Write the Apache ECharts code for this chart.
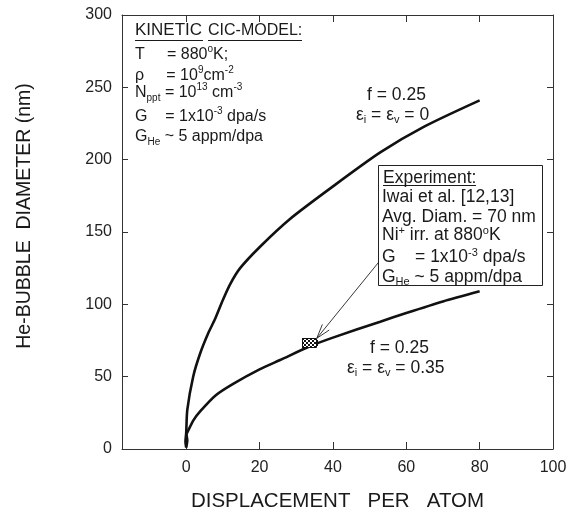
<!DOCTYPE html>
<html>
<head>
<meta charset="utf-8">
<script src="https://cdn.jsdelivr.net/npm/echarts@6/dist/echarts.min.js"></script>
<style>
html,body{margin:0;padding:0;background:#fff;}
#chart{width:574px;height:509px;}
</style>
</head>
<body>
<div id="chart"></div>
<script>
// ---- data ----
var xTicks = [0, 20, 40, 60, 80, 100];
var yTicks = [0, 50, 100, 150, 200, 250, 300];
var curveEps0 = [[0,1],[-0.2,5],[0,11],[0.3,27],[1.9,50],[3.8,66],[6,80],[7.9,90],[10,103],[12,114],[14.7,125],[20.2,140],[28.3,159],[39.2,180],[52.9,205],[65,223],[80,241]];
var curveEps035 = [[0,1],[0.3,6],[0.1,10],[0.6,13],[2,20],[3.8,26],[8,37],[12.8,45],[20,55],[25.6,61.5],[33.7,71],[40,77],[52.9,88],[60,94],[70,102],[80,109]];
var experimentPoint = [[33.7, 73.5]];
var arrowSeg = [[52.6, 129.5, 35.6, 76.5]];

var chart = echarts.init(document.getElementById('chart'));
var FONT = 'Liberation Sans, Arial, sans-serif';
var TXT = '#1a1a1a';
var axisCommon = {
  axisLine: {show: true, onZero: false, lineStyle: {color: '#333', width: 1}},
  splitLine: {show: false}
};
function mkRich(fs) {
  var ss = Math.round(fs * 0.62);
  return {
    n: {fontSize: fs, fontFamily: FONT, color: TXT, lineHeight: 21},
    sup: {fontSize: ss, fontFamily: FONT, color: TXT, lineHeight: 10, verticalAlign: 'top'},
    sub: {fontSize: ss, fontFamily: FONT, color: TXT, lineHeight: 6, verticalAlign: 'bottom'}
  };
}
var richK = mkRich(16), richE = mkRich(17.5);
function txt(x, y, s, r) {
  return {type: 'text', left: x, top: y, z: 100,
    style: {text: s, rich: r || richK, fill: TXT}};
}
chart.setOption({
  animation: false,
  backgroundColor: '#fff',
  grid: {left: 122, right: 21, top: 15, bottom: 60, containLabel: false, outerBoundsMode: 'none'},
  xAxis: [
    echarts.util.merge({
      type: 'value', min: -17.5, max: 100, position: 'bottom',
      name: 'DISPLACEMENT   PER   ATOM', nameLocation: 'middle', nameGap: 42,
      nameTextStyle: {fontSize: 20.5, fontFamily: FONT, color: TXT},
      axisTick: {show: true, inside: true, length: 7, customValues: xTicks, lineStyle: {color: '#333'}},
      axisLabel: {show: true, customValues: xTicks, fontSize: 16, fontFamily: FONT, color: '#222', margin: 11}
    }, axisCommon),
    echarts.util.merge({
      type: 'value', min: -17.5, max: 100, position: 'top',
      axisTick: {show: true, inside: true, length: 7, customValues: xTicks, lineStyle: {color: '#333'}},
      axisLabel: {show: false}
    }, axisCommon)
  ],
  yAxis: [
    echarts.util.merge({
      type: 'value', min: 0, max: 300, interval: 50, position: 'left',
      axisTick: {show: true, inside: true, length: 6, lineStyle: {color: '#333'}},
      axisLabel: {show: true, fontSize: 16, fontFamily: FONT, color: '#222', margin: 10}
    }, axisCommon),
    echarts.util.merge({
      type: 'value', min: 0, max: 300, interval: 50, position: 'right',
      axisTick: {show: true, inside: true, length: 6, lineStyle: {color: '#333'}},
      axisLabel: {show: false}
    }, axisCommon)
  ],
  series: [
    {type: 'line', data: curveEps0, showSymbol: false, smooth: 0.25,
     lineStyle: {color: '#111', width: 2.6}},
    {type: 'line', data: curveEps035, showSymbol: false, smooth: 0.25,
     lineStyle: {color: '#111', width: 2.6}},
    {type: 'custom', data: arrowSeg, z: 5,
     renderItem: function (params, api) {
       var p1 = api.coord([api.value(0), api.value(1)]);
       var p2 = api.coord([api.value(2), api.value(3)]);
       var ang = Math.atan2(p1[1] - p2[1], p1[0] - p2[0]);
       var L = 15, children = [
         {type: 'line', shape: {x1: p1[0], y1: p1[1], x2: p2[0], y2: p2[1]}, style: {stroke: '#222', lineWidth: 0.9}}
       ];
       [-0.3, 0.3].forEach(function (d) {
         children.push({type: 'line', shape: {x1: p2[0], y1: p2[1],
           x2: p2[0] + L * Math.cos(ang + d), y2: p2[1] + L * Math.sin(ang + d)},
           style: {stroke: '#222', lineWidth: 0.9}});
       });
       return {type: 'group', children: children};
     }},
    {type: 'custom', data: experimentPoint, z: 6,
     renderItem: function (params, api) {
       var c = api.coord([api.value(0), api.value(1)]);
       var w = 15, h = 10, s = 2;
       var x0 = Math.round(c[0] - w / 2), y0 = Math.round(c[1] - h / 2);
       var children = [{type: 'rect', shape: {x: x0, y: y0, width: w, height: h}, style: {fill: '#fff', stroke: null}}];
       for (var i = 0; i < w / s; i++) {
         for (var j = 0; j < h / s; j++) {
           if ((i + j) % 2 === 0) {
             children.push({type: 'rect', shape: {x: x0 + i * s, y: y0 + j * s, width: s, height: s}, style: {fill: '#111'}});
           }
         }
       }
       children.push({type: 'rect', shape: {x: x0 + 0.5, y: y0 + 0.5, width: w - 1, height: h - 1}, style: {fill: null, stroke: '#111', lineWidth: 1}});
       return {type: 'group', children: children};
     }}
  ],
  graphic: [
    {type: 'text', x: 25, y: 216, rotation: Math.PI / 2, z: 100,
     style: {text: 'He-BUBBLE  DIAMETER (nm)', font: '19.5px ' + FONT, fill: TXT, align: 'center', verticalAlign: 'middle'}},
    {type: 'text', left: 135, top: 22, z: 100, style: {text: 'KINETIC', font: '17px ' + FONT, fill: TXT}},
    {type: 'line', z: 100, shape: {x1: 135, y1: 40.5, x2: 203, y2: 40.5}, style: {stroke: TXT, lineWidth: 1}},
    {type: 'text', left: 208, top: 23, z: 100, style: {text: 'CIC-MODEL:', font: '16px ' + FONT, fill: TXT}},
    {type: 'line', z: 100, shape: {x1: 208, y1: 40.5, x2: 302, y2: 40.5}, style: {stroke: TXT, lineWidth: 1}},
    txt(135, 44, '{n|T     = 880}{sup|o}{n|K;}'),
    txt(135, 65, '{n|ρ     = 10}{sup|9}{n|cm}{sup|-2}'),
    txt(135, 82, '{n|N}{sub|ppt}{n| = 10}{sup|13}{n| cm}{sup|-3}'),
    txt(135, 106, '{n|G    = 1x10}{sup|-3}{n| dpa/s}'),
    txt(135, 129, '{n|G}{sub|He}{n| ~ 5 appm/dpa}'),
    txt(367, 86, '{n|f = 0.25}', richE),
    txt(356, 106, '{n|ε}{sub|i}{n| = ε}{sub|v}{n| = 0}', richE),
    txt(370, 339, '{n|f = 0.25}', richE),
    txt(347, 359, '{n|ε}{sub|i}{n| = ε}{sub|v}{n| = 0.35}', richE),
    {type: 'rect', z: 90, shape: {x: 378.5, y: 165.5, width: 164, height: 120},
     style: {fill: '#fff', stroke: '#222', lineWidth: 1}},
    {type: 'text', left: 383, top: 169, z: 100, style: {text: 'Experiment:', font: '17.5px ' + FONT, fill: TXT}},
    {type: 'line', z: 100, shape: {x1: 383, y1: 185.5, x2: 476, y2: 185.5}, style: {stroke: TXT, lineWidth: 1}},
    txt(382, 188, '{n|Iwai et al. [12,13]}', richE),
    txt(382, 208, '{n|Avg. Diam. = 70 nm}', richE),
    txt(382, 225, '{n|Ni}{sup|+}{n| irr. at 880}{sup|o}{n|K}', richE),
    txt(382, 247, '{n|G    = 1x10}{sup|-3}{n| dpa/s}', richE),
    txt(382, 268, '{n|G}{sub|He}{n| ~ 5 appm/dpa}', richE)
  ]
});
</script>
</body>
</html>
